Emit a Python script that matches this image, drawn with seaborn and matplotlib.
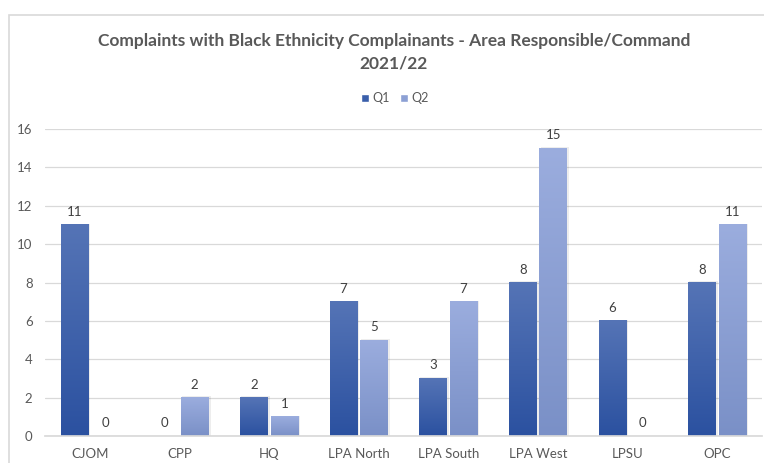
import numpy as np
import pandas as pd
import matplotlib
matplotlib.use("Agg")
import matplotlib.pyplot as plt
import seaborn as sns
from matplotlib.colors import LinearSegmentedColormap
from matplotlib.patches import Rectangle

categories = ["CJOM", "CPP", "HQ", "LPA North", "LPA South", "LPA West", "LPSU", "OPC"]
q1 = [11, 0, 2, 7, 3, 8, 6, 8]
q2 = [0, 2, 1, 5, 7, 15, 0, 11]
series = ["Q1", "Q2"]
y_ticks = [0, 2, 4, 6, 8, 10, 12, 14, 16]
title = "Complaints with Black Ethnicity Complainants - Area Responsible/Command\n2021/22"

df = pd.DataFrame({
    "Area": categories * 2,
    "Quarter": ["Q1"] * len(categories) + ["Q2"] * len(categories),
    "Count": q1 + q2,
})

sns.set_theme(style="white")
plt.rcParams["font.family"] = ["Lato", "DejaVu Sans"]

W, H = 764, 463
fig = plt.figure(figsize=(W / 100, H / 100), dpi=100)
ax = fig.add_axes([45 / W, 27 / H, (762 - 45) / W, (436 - 129) / H])

q1_top, q1_bot = "#5574b6", "#2b51a0"
q2_top, q2_bot = "#9badde", "#7a90c7"
palette = {"Q1": "#3a5fab", "Q2": "#8ca0d4"}

sns.barplot(data=df, x="Area", y="Count", hue="Quarter", hue_order=series,
            order=categories, palette=palette, width=0.68, gap=0.1,
            ax=ax, legend=True, saturation=1)

ax.set_ylim(0, 16)
ax.set_xlim(-0.5, len(categories) - 0.5)
ax.set_yticks(y_ticks)
ax.yaxis.grid(True, color="#d9d9d9", linewidth=0.9)
ax.set_axisbelow(True)
for s in ["top", "right", "left"]:
    ax.spines[s].set_visible(False)
ax.spines["bottom"].set_color("#d9d9d9")
ax.set_xlabel("")
ax.set_ylabel("")
ax.tick_params(axis="both", length=0, labelsize=9.5, labelcolor="#595959")
ax.tick_params(axis="y", pad=9)
ax.tick_params(axis="x", pad=9)

# vertical gradient fill for every bar
cmaps = {
    0: LinearSegmentedColormap.from_list("g1", [q1_bot, q1_top]),
    1: LinearSegmentedColormap.from_list("g2", [q2_bot, q2_top]),
}
grad = np.linspace(0, 1, 256).reshape(-1, 1)
for i, cont in enumerate(ax.containers):
    for bar in cont:
        x0, w, h = bar.get_x(), bar.get_width(), bar.get_height()
        bar.set_facecolor("none")
        bar.set_edgecolor("none")
        if h <= 0:
            continue
        # soft shadow
        ax.add_patch(Rectangle((x0 + 0.012, 0), w + 0.012, h + 0.06,
                               facecolor="#000000", alpha=0.07, zorder=1.5,
                               linewidth=0))
        ax.imshow(grad, extent=(x0, x0 + w, 0, h), origin="lower",
                  cmap=cmaps[i], aspect="auto", zorder=2,
                  interpolation="bilinear")
    ax.bar_label(cont, labels=[str(v) for v in (q1 if i == 0 else q2)],
                 padding=5, fontsize=9.5, color="#404040")

ax.set_ylim(0, 16)
ax.set_xlim(-0.5, len(categories) - 0.5)

# legend
leg = ax.get_legend()
handles = [Rectangle((0, 0), 1, 1, facecolor=palette[s]) for s in series]
leg.remove()
fig.legend(handles, series, loc="center", bbox_to_anchor=(395 / W, 1 - 98 / H),
           ncol=2, frameon=False, fontsize=9, handlelength=0.6, handleheight=0.6,
           handletextpad=0.3, columnspacing=0.8, labelcolor="#595959")

fig.text(394 / W, 1 - 52 / H, title, ha="center", va="center", fontsize=12.5,
         fontweight="bold", color="#595959", linespacing=1.5)

# chart frame
fig.add_artist(Rectangle((9 / W, -0.1), 1.2, (H - 15) / H + 0.1,
                         transform=fig.transFigure, facecolor="none",
                         edgecolor="#d9d9d9", linewidth=1.2))

fig.savefig("out.png", dpi=100)
